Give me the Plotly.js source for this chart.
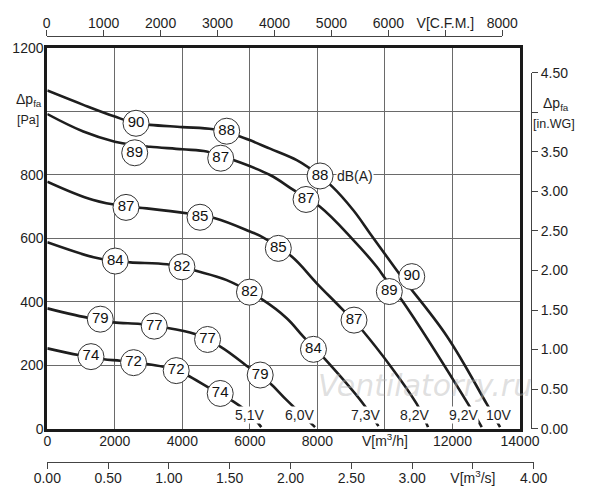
<!DOCTYPE html>
<html>
<head>
<meta charset="utf-8">
<script src="https://cdn.plot.ly/plotly-3.0.1.min.js"></script>
<style>html,body{margin:0;padding:0;background:#fff;}#chart{width:600px;height:500px;}</style>
</head>
<body>
<div id="chart"></div>
<script>
// ---- Data (airflow V in m3/h, static pressure dp_fa in Pa) ----
const q10V  = [0,1067,2000,2627,3042,4000,4917,5708,6597,7387,7731,8424,9064,9558,10053,10500,11830,13015,13410];
const p10V  = [1065,1020,983,962,957,950,943,920,882,846,823,764,688,615,542,477,292,78,5];
const q92V  = [0,1067,2000,2600,3042,4000,4721,5136,5509,6597,7287,8077,9064,9757,10003,10497,12461,12867];
const p92V  = [991,936,904,893,888,880,873,858,846,799,752,699,594,510,474,405,78,5];
const q82V  = [0,1363,2331,2944,4176,4967,6004,6398,7239,7980,8720,9360,10942,11276];
const p82V  = [778,720,700,694,678,663,621,602,542,458,378,306,78,5];
const q73V  = [0,1371,2013,2457,3543,3987,4375,5314,6350,7091,7583,8225,9360,9807];
const p73V  = [587,540,528,524,518,510,498,468,408,348,290,219,78,8];
const q60V  = [0,1273,1569,1964,2753,3338,4375,5136,6004,6597,7091,7930];
const p60V  = [379,348,345,335,330,321,298,258,190,143,90,5];
const q51V  = [0,927,1293,1667,2161,2555,2951,3443,3818,4129,4819,5515,6004,6338];
const p51V  = [253,232,227,219,214,208,204,195,183,169,127,85,46,5];

// sound level labels (dB(A)) placed on the curves
const dbQ = [2627,5314,8078,10794, 2589,5136,7663,10130, 2331,4523,6842,9084, 2013,3987,5988,7883, 1569,3167,4746,6305, 1293,2555,3818,5121];
const dbP = [962,937,796,479, 869,852,722,432, 697,666,568,342, 528,510,430,250, 345,323,281,169, 227,208,183,111];
const dbTxt = ['90','88','88','90','89','87','87','89','87','85','85','87','84','82','82','84','79','77','77','79','74','72','72','74'];

// voltage labels
const voltTxt = ['5,1V','6,0V','7,3V','8,2V','9,2V','10V'];
const voltQ   = [5974,7455,9410,10862,12313,13380];
const voltP   = [43,43,43,43,43,43];

// axes ticks
const qTicks   = [0,2000,4000,6000,8000,10000,12000,14000];
const qText    = ['0','2000','4000','6000','8000','V[m<sup>3</sup>/h]','12000','14000'];
const pTicks   = [0,200,400,600,800,1000,1200];
const pText    = ['0','200','400','600','800','','1200'];
const cfmTicks = [0,1000,2000,3000,4000,5000,6000,7000,8000];
const cfmText  = ['0','1000','2000','3000','4000','5000','6000','V[C.F.M.]','8000'];
const m3sTicks = [0,0.5,1,1.5,2,2.5,3,3.5,4];
const m3sText  = ['0.00','0.50','1.00','1.50','2.00','2.50','3.00','V[m<sup>3</sup>/s]','4.00'];
const inTicks  = [0,0.5,1,1.5,2,2.5,3,3.5,4,4.5];
const inText   = ['0.00','0.50','1.00','1.50','2.00','2.50','3.00','3.50','','4.50'];

// ---- helpers ----
const W = 600, H = 500;
const px = v => v / W;
const py = v => 1 - v / H;
const FONT = 'Liberation Sans, Arial, sans-serif';
const INK = '#1e1e1e';

function curve(q, p) {
  return {type:'scatter', mode:'lines', x:q, y:p, xaxis:'x', yaxis:'y',
    line:{color:INK, width:2.6, shape:'spline', smoothing:1.1},
    hoverinfo:'skip', showlegend:false, cliponaxis:true};
}

const traces = [
  curve(q10V,p10V), curve(q92V,p92V), curve(q82V,p82V),
  curve(q73V,p73V), curve(q60V,p60V), curve(q51V,p51V),
  {type:'scatter', mode:'markers+text', x:dbQ, y:dbP, text:dbTxt,
    textposition:'middle center', textfont:{family:FONT, size:15, color:'#111'},
    marker:{symbol:'circle', size:26, color:'#fff', line:{color:'#333', width:1}},
    xaxis:'x', yaxis:'y', hoverinfo:'skip', showlegend:false, cliponaxis:false},
  // carriers for the secondary unit axes
  {type:'scatter', mode:'markers', x:[null], y:[null], xaxis:'x2', yaxis:'y2', hoverinfo:'skip', showlegend:false},
  {type:'scatter', mode:'markers', x:[null], y:[null], xaxis:'x3', yaxis:'y2', hoverinfo:'skip', showlegend:false}
];

const annotations = [];
voltTxt.forEach((t,i) => annotations.push({
  x:voltQ[i], y:voltP[i], xref:'x', yref:'y', text:t, showarrow:false,
  font:{family:FONT, size:14, color:INK}, bgcolor:'#fff', borderpad:0,
  xanchor:'center', yanchor:'middle'}));
annotations.push({x:8560, y:796, xref:'x', yref:'y', text:'dB(A)', showarrow:false,
  font:{family:FONT, size:14, color:INK}, bgcolor:'#fff', borderpad:0, xanchor:'left', yanchor:'middle'});
annotations.push({x:px(14), y:py(100), xref:'paper', yref:'paper', text:'Δp<sub>fa</sub>', showarrow:false,
  font:{family:FONT, size:14, color:INK}, xanchor:'left', yanchor:'middle'});
annotations.push({x:px(15), y:py(120), xref:'paper', yref:'paper', text:'[Pa]', showarrow:false,
  font:{family:FONT, size:12.5, color:INK}, xanchor:'left', yanchor:'middle'});
annotations.push({x:px(556), y:py(104), xref:'paper', yref:'paper', text:'Δp<sub>fa</sub>', showarrow:false,
  font:{family:FONT, size:14, color:INK}, xanchor:'center', yanchor:'middle'});
annotations.push({x:px(554), y:py(124), xref:'paper', yref:'paper', text:'[in.WG]', showarrow:false,
  font:{family:FONT, size:12.5, color:INK}, xanchor:'center', yanchor:'middle'});
annotations.push({x:px(425), y:py(385), xref:'paper', yref:'paper', text:'<i>Ventilatorry.ru</i>', showarrow:false,
  font:{family:'DejaVu Sans, sans-serif', size:30, color:'rgba(180,180,180,0.42)'}, xanchor:'center', yanchor:'middle'});

const tickFont = {family:FONT, size:14, color:INK};

const layout = {
  width:W, height:H, margin:{l:0, r:0, t:0, b:0},
  paper_bgcolor:'#fff', plot_bgcolor:'rgba(0,0,0,0)', showlegend:false, hovermode:false,
  font:{family:FONT, color:INK},
  xaxis:{domain:[px(47.3), px(520)], range:[0,14000], anchor:'y',
    tickvals:qTicks, ticktext:qText, tickfont:tickFont, ticks:'', ticklabelstandoff:-3,
    showgrid:true, gridcolor:'#6a6a6a', gridwidth:1, zeroline:false,
    showline:true, linecolor:'#1a1a1a', linewidth:3, mirror:true},
  yaxis:{domain:[py(428.7), py(47.7)], range:[0,1200], anchor:'x',
    tickvals:pTicks, ticktext:pText, tickfont:tickFont, ticks:'', ticklabelstandoff:-2,
    showgrid:true, gridcolor:'#6a6a6a', gridwidth:1, zeroline:false,
    showline:true, linecolor:'#1a1a1a', linewidth:3, mirror:true},
  xaxis2:{domain:[px(46.7), px(502.3)], range:[0,8000], anchor:'free', position:py(36), side:'top',
    tickvals:cfmTicks, ticktext:cfmText, tickfont:tickFont, ticks:'outside', ticklen:6, tickcolor:'#444', tickwidth:1,
    ticklabelstandoff:-4,
    showgrid:false, zeroline:false, showline:true, linecolor:'#444', linewidth:1},
  xaxis3:{domain:[px(47.3), px(533.7)], range:[0,4], anchor:'free', position:py(462.3), side:'bottom',
    tickvals:m3sTicks, ticktext:m3sText, tickfont:tickFont, ticks:'outside', ticklen:6, tickcolor:'#444', tickwidth:1,
    ticklabelstandoff:-3,
    showgrid:false, zeroline:false, showline:true, linecolor:'#444', linewidth:1},
  yaxis2:{domain:[py(428.7), py(72.7)], range:[0,4.5], anchor:'free', position:px(531), side:'right',
    tickvals:inTicks, ticktext:inText, tickfont:tickFont, ticks:'outside', ticklen:6, tickcolor:'#444', tickwidth:1,
    showgrid:false, zeroline:false, showline:true, linecolor:'#444', linewidth:1},
  annotations:annotations
};

Plotly.newPlot('chart', traces, layout, {staticPlot:true, displayModeBar:false});
</script>
</body>
</html>
